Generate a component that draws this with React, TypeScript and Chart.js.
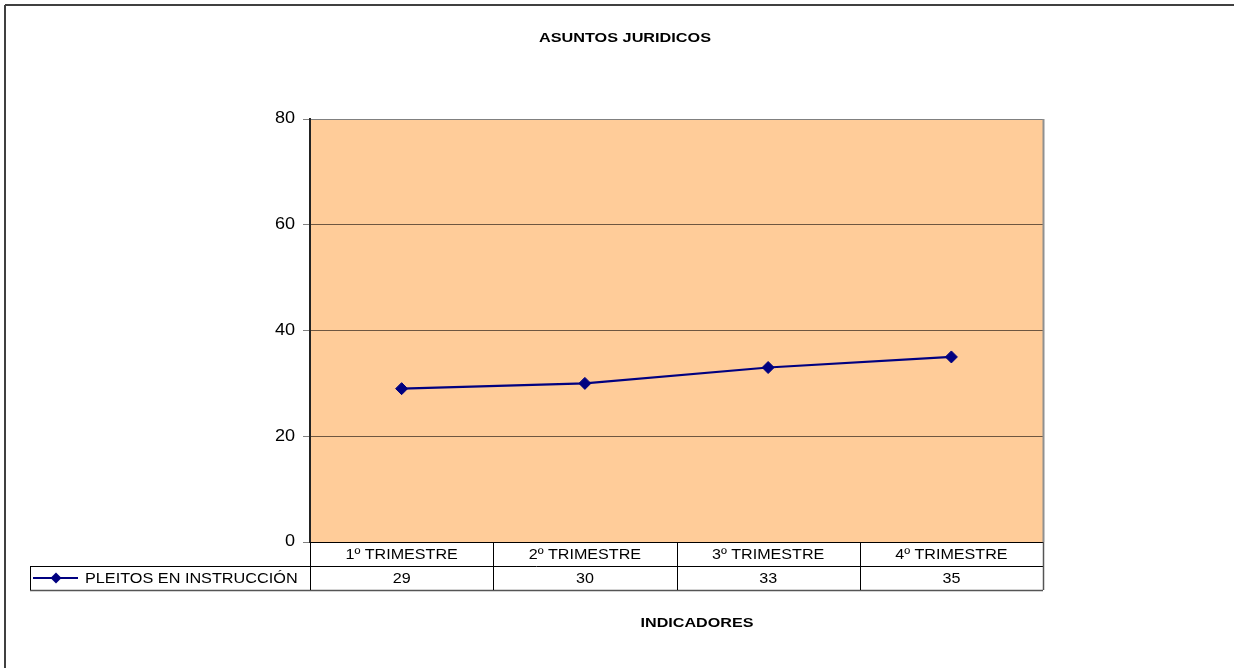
import React, { useEffect, useRef } from "react";
import { Chart, registerables } from "chart.js";

Chart.register(...registerables);

const TITLE = "ASUNTOS JURIDICOS";
const AXIS_TITLE = "INDICADORES";
const categories = ["1º TRIMESTRE", "2º TRIMESTRE", "3º TRIMESTRE", "4º TRIMESTRE"];
const seriesName = "PLEITOS EN INSTRUCCIÓN";
const seriesValues = [29, 30, 33, 35];
const yMin = 0;
const yMax = 80;
const yStep = 20;

const FONT = "'Liberation Sans', Arial, sans-serif";
const NAVY = "#000080";

function stretchText(
  ctx: CanvasRenderingContext2D,
  text: string,
  x: number,
  y: number,
  font: string,
  align: "left" | "center" | "right",
  sx: number
) {
  ctx.save();
  ctx.font = font;
  ctx.fillStyle = "#000";
  ctx.textBaseline = "middle";
  ctx.textAlign = "left";
  const w = ctx.measureText(text).width * sx;
  const left = align === "center" ? x - w / 2 : align === "right" ? x - w : x;
  ctx.translate(left, y);
  ctx.scale(sx, 1);
  ctx.fillText(text, 0, 0);
  ctx.restore();
}

function line(ctx: CanvasRenderingContext2D, x1: number, y1: number, x2: number, y2: number, color: string, w = 1) {
  ctx.save();
  ctx.strokeStyle = color;
  ctx.lineWidth = w;
  ctx.beginPath();
  ctx.moveTo(x1, y1);
  ctx.lineTo(x2, y2);
  ctx.stroke();
  ctx.restore();
}

function diamond(ctx: CanvasRenderingContext2D, x: number, y: number, r: number) {
  ctx.save();
  ctx.fillStyle = NAVY;
  ctx.beginPath();
  ctx.moveTo(x - r, y);
  ctx.lineTo(x, y - r);
  ctx.lineTo(x + r, y);
  ctx.lineTo(x, y + r);
  ctx.closePath();
  ctx.fill();
  ctx.restore();
}

const decorPlugin = {
  id: "decor",
  beforeDraw(chart: any) {
    const { ctx, chartArea } = chart;
    ctx.save();
    ctx.fillStyle = "#fff";
    ctx.fillRect(0, 0, chart.width, chart.height);
    ctx.fillStyle = "#FFCC99";
    ctx.fillRect(chartArea.left, chartArea.top, chartArea.right - chartArea.left, chartArea.bottom - chartArea.top);
    ctx.restore();
    line(ctx, 5, 5, chart.width, 5, "#404040", 2);
    line(ctx, 5, 5, 5, chart.height, "#404040", 2);
  },
  afterDraw(chart: any) {
    const { ctx, chartArea } = chart;
    const xs = chart.scales.x;
    const ys = chart.scales.y;
    const left = chartArea.left;
    const right = chartArea.right;
    const top = chartArea.bottom;
    const rowH = 24;
    const legendLeft = 30;
    const bandW = (right - left) / categories.length;

    line(ctx, right + 0.5, chartArea.top, right + 0.5, top, "#909090", 2);

    for (let v = yMin; v <= yMax; v += yStep) {
      const py = ys.getPixelForValue(v);
      stretchText(ctx, String(v), left - 15, py, `16px ${FONT}`, "right", 1.13);
    }

    line(ctx, left, top + 0.5, right, top + 0.5, "#000", 1);
    line(ctx, legendLeft, top + rowH + 0.5, right, top + rowH + 0.5, "#000", 1);
    line(ctx, legendLeft, top + 2 * rowH + 0.5, right, top + 2 * rowH + 0.5, "#555", 1.5);
    line(ctx, legendLeft + 0.5, top + rowH, legendLeft + 0.5, top + 2 * rowH, "#000", 1);
    for (let i = 0; i <= categories.length; i++) {
      const x = Math.round(left + i * bandW) + 0.5;
      line(ctx, x, top, x, top + 2 * rowH, i === categories.length ? "#555" : "#000", i === categories.length ? 1.5 : 1);
    }
    categories.forEach((c, i) => {
      const cx = xs.getPixelForValue(i);
      stretchText(ctx, c, cx, top + rowH / 2 + 1, `14px ${FONT}`, "center", 1.15);
      stretchText(ctx, String(seriesValues[i]), cx, top + rowH * 1.5 + 1, `14px ${FONT}`, "center", 1.15);
    });

    const ly = top + rowH * 1.5;
    line(ctx, 33, ly, 78, ly, NAVY, 2);
    diamond(ctx, 56, ly, 5.5);
    stretchText(ctx, seriesName, 85, ly + 1, `14px ${FONT}`, "left", 1.16);

    stretchText(ctx, TITLE, 625, 38, `bold 13px ${FONT}`, "center", 1.25);
    stretchText(ctx, AXIS_TITLE, 697, 623, `bold 13px ${FONT}`, "center", 1.24);
  },
};

export default function App() {
  const ref = useRef<HTMLCanvasElement | null>(null);

  useEffect(() => {
    document.body.style.margin = "0";
    if (!ref.current) return;
    const chart = new Chart(ref.current, {
      type: "line",
      data: {
        labels: categories,
        datasets: [
          {
            label: seriesName,
            data: seriesValues,
            borderColor: NAVY,
            backgroundColor: NAVY,
            borderWidth: 2.2,
            pointStyle: "rectRot",
            pointRadius: 6,
            pointBackgroundColor: NAVY,
            pointBorderColor: NAVY,
            pointBorderWidth: 1,
            tension: 0,
          },
        ],
      },
      options: {
        responsive: false,
        animation: false,
        devicePixelRatio: 1,
        layout: { padding: { left: 0, right: 191, top: 119, bottom: 126 } },
        plugins: {
          legend: { display: false },
          tooltip: { enabled: false },
          title: { display: false },
        },
        scales: {
          x: {
            type: "category",
            display: false,
            offset: true,
          },
          y: {
            min: yMin,
            max: yMax,
            ticks: { display: false, stepSize: yStep },
            grid: {
              drawTicks: true,
              tickLength: 7,
              tickColor: "#808080",
              color: (c: any) =>
                c.tick && c.tick.value === yMax ? "#808080" : c.tick && c.tick.value === yMin ? "#000" : "#6e5640",
              lineWidth: 1,
            },
            border: { display: true, color: "#222", width: 2 },
            afterFit: (scale: any) => {
              scale.width = 310;
            },
          },
        },
      },
      plugins: [decorPlugin],
    } as any);
    return () => chart.destroy();
  }, []);

  return (
    <div style={{ position: "fixed", left: 0, top: 0, width: 1234, height: 668, background: "#fff" }}>
      <canvas ref={ref} width={1234} height={668} style={{ display: "block" }} />
    </div>
  );
}
